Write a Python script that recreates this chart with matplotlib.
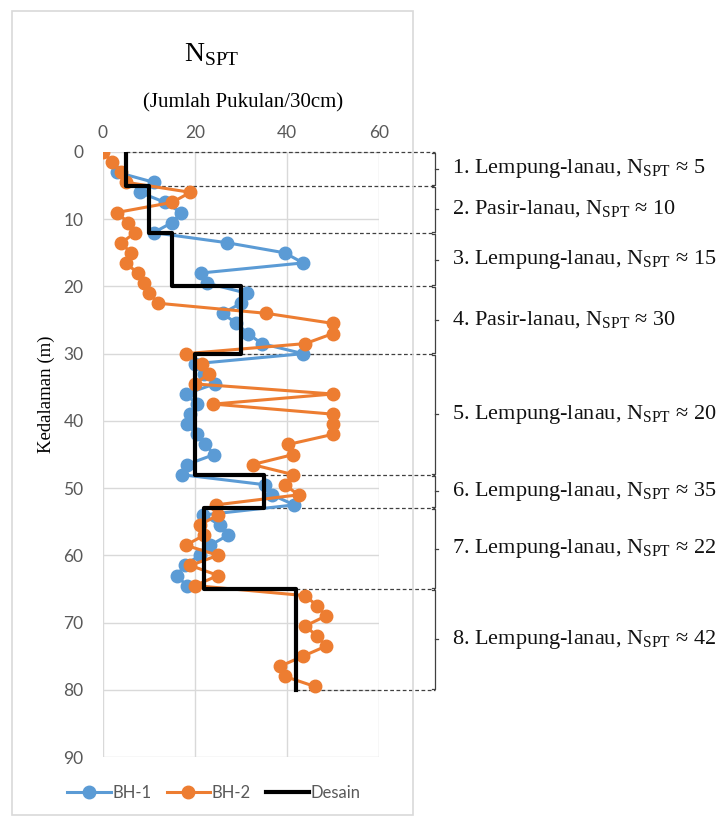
import numpy as np
import matplotlib.pyplot as plt
from matplotlib.patches import Rectangle

plt.rcParams['mathtext.fontset'] = 'custom'
plt.rcParams['mathtext.rm'] = 'Liberation Serif'

# BH-1 (blue)
bh1_depth = [3, 4.5, 6, 7.5, 9, 10.5, 12, 13.5, 15, 16.5, 18, 19.5, 21, 22.5, 24, 25.5,
             27, 28.5, 30, 31.5, 33, 34.5, 36, 37.5, 39, 40.5, 42, 43.5, 45, 46.5, 48,
             49.5, 51, 52.5, 54, 55.5, 57, 58.5, 60, 61.5, 63, 64.5]
bh1_n = [3, 11, 8, 13.5, 17, 15, 11, 27, 39.5, 43.5, 21.3, 22.5, 31.2, 30, 26, 29,
         31.5, 34.5, 43.5, 20, 22, 24.3, 18, 20.4, 19, 18.2, 20.4, 22.2, 24.2, 18.2, 17.1,
         35.2, 36.7, 41.6, 21.8, 25.4, 27.2, 23.3, 21, 17.8, 16, 18.2]

# BH-2 (orange)
bh2_depth = [0, 1.5, 3, 4.5, 6, 7.5, 9, 10.5, 12, 13.5, 15, 16.5, 18, 19.5, 21, 22.5,
             24, 25.5, 27, 28.5, 30, 31.5, 33, 34.5, 36, 37.5, 39, 40.5, 42, 43.5, 45,
             46.5, 48, 49.5, 51, 52.5, 54, 55.5, 57, 58.5, 60, 61.5, 63, 64.5, 66, 67.5,
             69, 70.5, 72, 73.5, 75, 76.5, 78, 79.5]
bh2_n = [0, 2, 4, 5, 19, 15, 3, 5.5, 7, 4, 6, 5, 7.5, 9, 10, 12,
         35.5, 50, 50, 44, 18, 21.5, 23, 20, 50, 24, 50, 50, 50, 40.3, 41.4,
         32.5, 41.4, 39.5, 42.5, 24.5, 25, 21, 22, 18, 25, 19, 25, 20, 44, 46.5,
         48.5, 44, 46.5, 48.5, 43.5, 38.5, 39.5, 46]

# desain layers
layer_top = [0, 5, 12, 20, 30, 48, 53, 65]
layer_bot = [5, 12, 20, 30, 48, 53, 65, 80]
design_n = [5, 10, 15, 30, 20, 35, 22, 42]
layer_names = ["1. Lempung-lanau", "2. Pasir-lanau", "3. Lempung-lanau", "4. Pasir-lanau",
               "5. Lempung-lanau", "6. Lempung-lanau", "7. Lempung-lanau", "8. Lempung-lanau"]

x_ticks = [0, 20, 40, 60]
y_ticks = [0, 10, 20, 30, 40, 50, 60, 70, 80, 90]

blue = "#5B9BD5"
orange = "#ED7D31"
grey = "#595959"

fig = plt.figure(figsize=(7.2, 8.23), dpi=100)
ax = fig.add_axes([103 / 720, 66 / 823, 276 / 720, 605 / 823])

# chart border
fig.patches.append(Rectangle((12 / 720, 8 / 823), 401 / 720, 804 / 823,
                             transform=fig.transFigure, fill=False,
                             edgecolor="#d9d9d9", linewidth=1.2))

# step line for desain
step_x, step_y = [], []
for top, bot, n in zip(layer_top, layer_bot, design_n):
    step_x += [n, n]
    step_y += [top, bot]

ax.plot(bh1_n, bh1_depth, color=blue, lw=2.2, marker="o", markersize=9, label="BH-1", zorder=3)
ax.plot(bh2_n, bh2_depth, color=orange, lw=2.2, marker="o", markersize=9, label="BH-2", zorder=4)
ax.plot(step_x, step_y, color="black", lw=3, label="Desain", zorder=5)

# dashed boundaries, bracket and layer labels
bx = 72.2
bounds = sorted(set(layer_top + layer_bot))
for b in bounds:
    near = [n for t, bt, n in zip(layer_top, layer_bot, design_n) if t == b or bt == b]
    ax.plot([max(near), bx], [b, b], color="#404040", lw=0.9, ls=(0, (3, 2)),
            clip_on=False, zorder=2)

for top, bot, name, n in zip(layer_top, layer_bot, layer_names, design_n):
    mid = (top + bot) / 2
    ax.plot([bx - 0.6, bx, bx, bx - 0.6], [top + 0.15, top + 0.15, bot - 0.15, bot - 0.15],
            color="#404040", lw=0.9, clip_on=False)
    ax.plot([bx, bx + 0.7], [mid, mid], color="#404040", lw=0.9, clip_on=False)
    ax.text(bx + 3.6, mid, name + ", N$_{\\mathrm{SPT}}$ \u2248 " + str(n),
            family="Liberation Serif", fontsize=16, color="#111111",
            va="center", ha="left", clip_on=False)

ax.set_xlim(0, 60)
ax.set_ylim(90, 0)
ax.set_xticks(x_ticks)
ax.set_yticks(y_ticks)
ax.xaxis.tick_top()
ax.tick_params(length=0, labelsize=12.5, labelcolor=grey)
ax.tick_params(axis="y", pad=14)
ax.tick_params(axis="x", pad=8)
for lab in ax.get_xticklabels() + ax.get_yticklabels():
    lab.set_family("Lato")
ax.grid(True, color="#d9d9d9", lw=1)
ax.set_axisbelow(True)
for s in ax.spines.values():
    s.set_visible(False)

fig.text(212 / 720, 1 - 55 / 823, "N$_{\\mathrm{SPT}}$", family="Liberation Serif",
         fontsize=20, ha="center", va="center")
fig.text(243 / 720, 1 - 103 / 823, "(Jumlah Pukulan/30cm)", family="Liberation Serif",
         fontsize=15, ha="center", va="center")
fig.text(46 / 720, 1 - 394 / 823, "Kedalaman (m)", family="Liberation Serif",
         fontsize=13.5, ha="center", va="center", rotation=90)

leg = ax.legend(loc="center", bbox_to_anchor=(214 / 720, 30 / 823),
                bbox_transform=fig.transFigure, ncol=3, frameon=False,
                handlelength=2.6, columnspacing=0.9, handletextpad=0.1,
                prop={"family": "Lato", "size": 12})
for t in leg.get_texts():
    t.set_color(grey)

fig.savefig("out.png", dpi=100)
